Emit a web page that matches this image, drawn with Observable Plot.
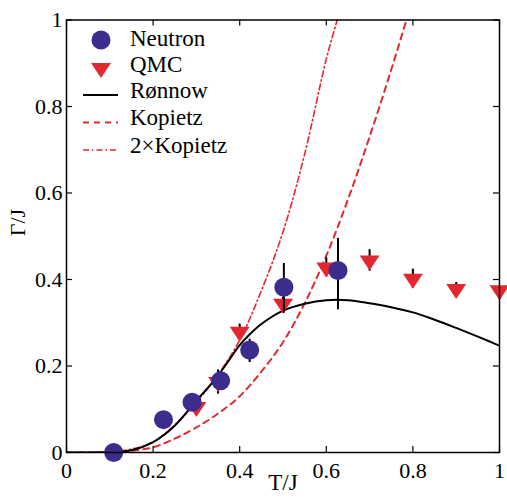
<!DOCTYPE html>
<html><head><meta charset="utf-8">
<script src="https://cdn.jsdelivr.net/npm/d3@7"></script>
<script src="https://cdn.jsdelivr.net/npm/@observablehq/plot@0.6"></script>
<style>
body{margin:0;background:#fff}
#wrap{position:relative;width:507px;height:499px}
#legend{position:absolute;left:0;top:0}
</style>
</head><body><div id="wrap"></div>
<script>
// ---- data ----
const neutronT    = [0.109, 0.224, 0.290, 0.356, 0.423, 0.502, 0.627];
const neutronG    = [0.000, 0.076, 0.116, 0.166, 0.237, 0.382, 0.421];
const neutronLow  = [0.000, 0.076, 0.116, 0.160, 0.208, 0.322, 0.330];
const neutronHigh = [0.000, 0.076, 0.116, 0.172, 0.262, 0.437, 0.495];

const qmcT   = [0.3, 0.35, 0.4, 0.5, 0.6, 0.7, 0.8, 0.9, 1.0];
const qmcG   = [0.105, 0.163, 0.279, 0.344, 0.428, 0.444, 0.402, 0.378, 0.375];
const qmcErr = [0.008, 0.028, 0.018, 0.015, 0.022, 0.025, 0.022, 0.015, 0.008];

const ronnowT = [0, 0.05, 0.1, 0.15, 0.2, 0.25, 0.3, 0.325, 0.35, 0.375, 0.4, 0.425, 0.45, 0.5, 0.55, 0.6, 0.65, 0.7, 0.75, 0.8, 0.85, 0.9, 0.95, 1.0];
const ronnowG = [0, 0, 0.001, 0.005, 0.024, 0.062, 0.12, 0.148, 0.178, 0.213, 0.248, 0.275, 0.297, 0.328, 0.344, 0.352, 0.352, 0.345, 0.336, 0.324, 0.307, 0.288, 0.268, 0.247];

const kopT = [0, 0.05, 0.1, 0.15, 0.2, 0.25, 0.3, 0.35, 0.4, 0.45, 0.5, 0.55, 0.6, 0.65, 0.7, 0.75, 0.785, 0.8];
const kopG = [0, 0, 0.001, 0.004, 0.012, 0.032, 0.058, 0.09, 0.13, 0.187, 0.255, 0.345, 0.455, 0.585, 0.73, 0.885, 1.0, 1.05];

const kop2T = [0, 0.05, 0.1, 0.15, 0.2, 0.25, 0.3, 0.35, 0.4, 0.45, 0.5, 0.55, 0.6, 0.625, 0.64];
const kop2G = [0, 0, 0.002, 0.008, 0.024, 0.064, 0.116, 0.18, 0.26, 0.374, 0.51, 0.69, 0.91, 1.0, 1.06];

const xTicks = [0, 0.2, 0.4, 0.6, 0.8, 1];
const xTickLabels = ["0", "0.2", "0.4", "0.6", "0.8", "1"];
const yTicks = [0, 0.2, 0.4, 0.6, 0.8, 1];
const yTickLabels = ["0", "0.2", "0.4", "0.6", "0.8", "1"];

const legendLabels = ["Neutron", "QMC", "Rønnow", "Kopietz", "2×Kopietz"];

// ---- tables ----
const neutron = neutronT.map((t, i) => ({t, g: neutronG[i], lo: neutronLow[i], hi: neutronHigh[i]}));
const qmc = qmcT.map((t, i) => ({t, g: qmcG[i], lo: qmcG[i] - qmcErr[i], hi: qmcG[i] + qmcErr[i]}));
const ronnow = ronnowT.map((t, i) => ({t, g: ronnowG[i]}));
const kop = kopT.map((t, i) => ({t, g: kopG[i]}));
const kop2 = kop2T.map((t, i) => ({t, g: kop2G[i]}));

const BLUE = "#3d2b8e";
const RED = "#e2282f";
const FONT = "'Liberation Serif', 'Times New Roman', serif";

const triangleDown = {
  draw(ctx, size) {
    const s = Math.sqrt(size);
    const w = s * 0.75, h = s * 1.13;
    ctx.moveTo(0, h * 2 / 3);
    ctx.lineTo(-w, -h / 3);
    ctx.lineTo(w, -h / 3);
    ctx.closePath();
  }
};

const tickLen = 0.014;

const plot = Plot.plot({
  width: 507,
  height: 499,
  marginLeft: 66,
  marginRight: 8,
  marginTop: 19.5,
  marginBottom: 47,
  style: {fontFamily: FONT, background: "white", color: "black"},
  x: {domain: [0, 1]},
  y: {domain: [0, 1]},
  marks: [
    Plot.line(kop2, {x: "t", y: "g", stroke: RED, strokeWidth: 1.6, strokeDasharray: "6,3,1.5,3", curve: "catmull-rom", clip: true}),
    Plot.line(kop, {x: "t", y: "g", stroke: RED, strokeWidth: 2, strokeDasharray: "6,5", curve: "catmull-rom", clip: true}),
    Plot.line(ronnow, {x: "t", y: "g", stroke: "black", strokeWidth: 2, curve: "catmull-rom", clip: true}),
    Plot.ruleX(qmc, {x: "t", y1: "lo", y2: "hi", stroke: "black", strokeWidth: 2}),
    Plot.dot(qmc, {x: "t", y: "g", symbol: triangleDown, r: 7.5, fill: RED, stroke: "none"}),
    Plot.ruleX(neutron.filter(d => d.hi > d.lo), {x: "t", y1: "lo", y2: "hi", stroke: "black", strokeWidth: 2}),
    Plot.dot(neutron, {x: "t", y: "g", r: 9.5, fill: BLUE, stroke: "none"}),
    Plot.frame({stroke: "black", strokeWidth: 1.5}),
    Plot.ruleX(xTicks, {y1: 0, y2: tickLen, stroke: "black", strokeWidth: 1.2}),
    Plot.ruleX(xTicks, {y1: 1 - tickLen, y2: 1, stroke: "black", strokeWidth: 1.2}),
    Plot.ruleY(yTicks, {x1: 0, x2: tickLen, stroke: "black", strokeWidth: 1.2}),
    Plot.ruleY(yTicks, {x1: 1 - tickLen, x2: 1, stroke: "black", strokeWidth: 1.2}),
    Plot.axisX({ticks: xTicks, tickFormat: (d, i) => xTickLabels[xTicks.indexOf(d)], tickSize: 0, tickPadding: 10, fontSize: 22, label: null}),
    Plot.axisY({ticks: yTicks, tickFormat: (d, i) => yTickLabels[yTicks.indexOf(d)], tickSize: 0, tickPadding: 4, fontSize: 22, label: null}),
    Plot.text(["T/J"], {frameAnchor: "bottom", dy: 37, fontSize: 23, fill: "black"}),
    Plot.text(["Γ/J"], {frameAnchor: "left", dx: -49, rotate: -90, fontSize: 22, fill: "black"})
  ]
});

const wrap = document.getElementById("wrap");
wrap.appendChild(plot);

// ---- legend overlay ----
const leg = d3.select(wrap).append("svg")
  .attr("id", "legend").attr("width", 507).attr("height", 499)
  .style("pointer-events", "none");
const rowsY = [40, 68, 95, 122.5, 150];
const baseY = [45.7, 71.8, 98.3, 125, 152.7];
leg.append("circle").attr("cx", 101).attr("cy", rowsY[0]).attr("r", 9.5).attr("fill", BLUE);
leg.append("path").attr("transform", `translate(101,${rowsY[1]})`)
  .attr("d", () => { const p = d3.path(); triangleDown.draw(p, Math.PI * 7.5 * 7.5); return p.toString(); })
  .attr("fill", RED);
leg.append("line").attr("x1", 83).attr("x2", 118).attr("y1", rowsY[2]).attr("y2", rowsY[2]).attr("stroke", "black").attr("stroke-width", 2);
leg.append("line").attr("x1", 83).attr("x2", 118).attr("y1", rowsY[3]).attr("y2", rowsY[3]).attr("stroke", RED).attr("stroke-width", 2).attr("stroke-dasharray", "6,5");
leg.append("line").attr("x1", 83).attr("x2", 118).attr("y1", rowsY[4]).attr("y2", rowsY[4]).attr("stroke", RED).attr("stroke-width", 1.6).attr("stroke-dasharray", "6,3,1.5,3");
legendLabels.forEach((s, i) => {
  leg.append("text").attr("x", 130).attr("y", baseY[i]).text(s)
    .attr("font-family", FONT).attr("font-size", 23).attr("fill", "black");
});
</script>
</body></html>
